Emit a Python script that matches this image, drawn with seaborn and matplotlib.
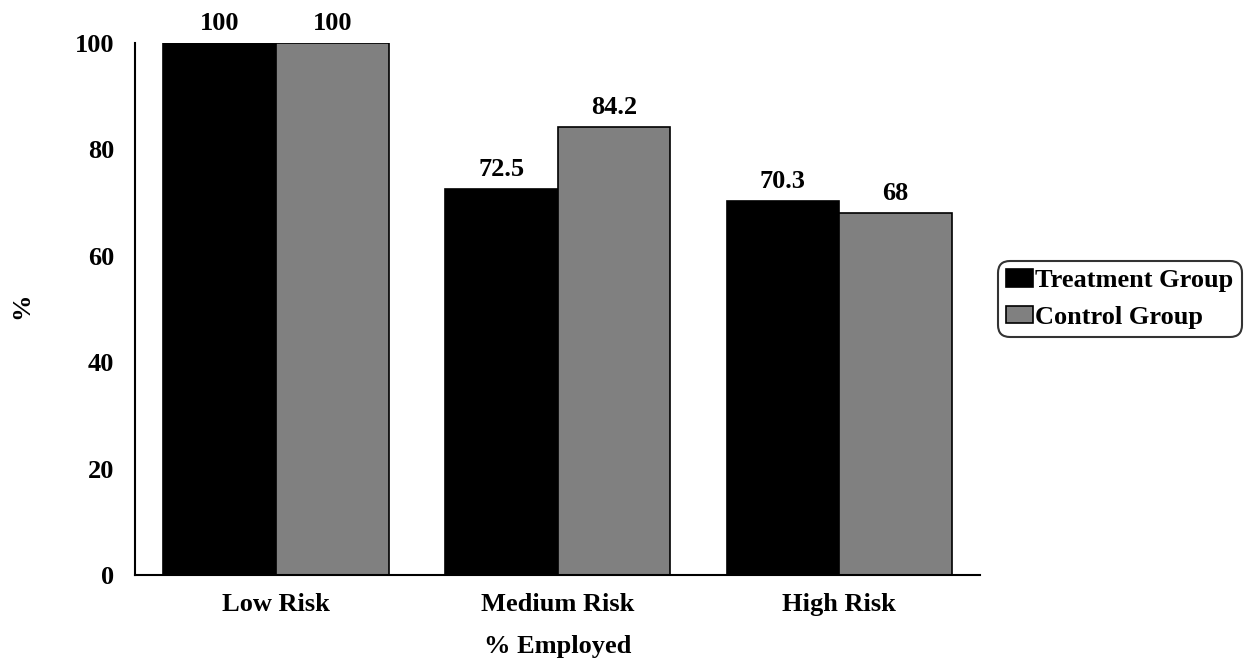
import matplotlib
matplotlib.use("Agg")
import matplotlib.pyplot as plt
import seaborn as sns
import pandas as pd

categories = ["Low Risk", "Medium Risk", "High Risk"]
groups = ["Treatment Group", "Control Group"]
treatment = [100, 72.5, 70.3]
control = [100, 84.2, 68]
yticks = [0, 20, 40, 60, 80, 100]

df = pd.DataFrame({
    "cat": categories * 2,
    "group": [groups[0]] * 3 + [groups[1]] * 3,
    "val": treatment + control,
})

sns.set_style("white")
plt.rcParams["font.family"] = ["Liberation Serif", "DejaVu Serif"]
plt.rcParams["font.weight"] = "bold"
for k in ["text.color", "axes.labelcolor", "xtick.color", "ytick.color"]:
    plt.rcParams[k] = "black"

FS = 19

fig = plt.figure(figsize=(12.52, 6.64), dpi=100)
ax = fig.add_axes([135 / 1252, 1 - 575 / 664, (980 - 135) / 1252, (575 - 43) / 664])

sns.barplot(data=df, x="cat", y="val", hue="group", order=categories, hue_order=groups,
            palette=["#000000", "#808080"], saturation=1, width=0.8,
            edgecolor="black", linewidth=1.2, ax=ax, errorbar=None)

for cont in ax.containers:
    ax.bar_label(cont, fmt="%g", padding=6, fontsize=FS, fontweight="bold", clip_on=False)

ax.set_xlim(-0.5, 2.5)
ax.set_ylim(0, 100)
ax.set_yticks(yticks)
ax.set_yticklabels([str(t) for t in yticks], fontsize=FS, fontweight="bold")
ax.set_xticks(range(len(categories)))
ax.set_xticklabels(categories, fontsize=FS, fontweight="bold")
ax.tick_params(axis="y", length=0, pad=15)
ax.tick_params(axis="x", length=0, pad=13)
ax.set_ylabel("%", fontsize=FS, fontweight="bold")
ax.set_xlabel("% Employed", fontsize=FS, fontweight="bold")
ax.yaxis.set_label_coords(-0.12, 0.507)
ax.xaxis.set_label_coords(0.5, -0.112)

for s in ["top", "right"]:
    ax.spines[s].set_visible(False)
for s in ["left", "bottom"]:
    ax.spines[s].set_color("black")
    ax.spines[s].set_linewidth(1.5)

handles, labels = ax.get_legend_handles_labels()
ax.legend_.remove()
leg = fig.legend(handles, labels, loc="center left", bbox_to_anchor=(998 / 1252, 1 - 299 / 664),
                 prop={"size": FS, "weight": "bold"}, frameon=True, fancybox=True,
                 handlelength=1.0, handleheight=0.65, handletextpad=0.1, borderpad=0.32,
                 labelspacing=0.5, borderaxespad=0)
frame = leg.get_frame()
frame.set_edgecolor("black")
frame.set_linewidth(1.5)
frame.set_boxstyle("round,pad=0,rounding_size=0.45")

fig.savefig("out.png", dpi=100)
